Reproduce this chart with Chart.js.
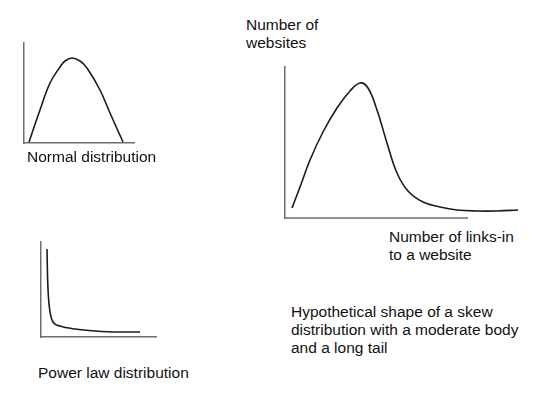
<!DOCTYPE html>
<html>
<head>
<meta charset="utf-8">
<script src="https://cdn.jsdelivr.net/npm/chart.js@4.4.1/dist/chart.umd.min.js"></script>
<style>
  body { margin: 0; background: #fff; }
  #page { position: relative; width: 550px; height: 394px; overflow: hidden; background: #fff; }
  canvas { position: absolute; }
  .lbl { position: absolute; font-family: "Liberation Sans", Arial, sans-serif; font-size: 15.5px; line-height: 18px; color: #111; white-space: nowrap; }
</style>
</head>
<body>
<div id="page">
  <canvas id="normalChart" width="130" height="120" style="left:14px;top:33px"></canvas>
  <canvas id="skewChart" width="265" height="171" style="left:275px;top:57px"></canvas>
  <canvas id="powerChart" width="135" height="115" style="left:31px;top:232px"></canvas>

  <div class="lbl" style="left:246px;top:16px">Number of<br>websites</div>
  <div class="lbl" style="left:389px;top:228px">Number of links-in<br>to a website</div>
  <div class="lbl" style="left:291px;top:303px">Hypothetical shape of a skew<br>distribution with a moderate body<br>and a long tail</div>
  <div class="lbl" style="left:27px;top:148px">Normal distribution</div>
  <div class="lbl" style="left:38px;top:364px">Power law distribution</div>
</div>
<script>
// curve shapes (arbitrary units)
const normalX = [5, 16, 26, 36, 41, 48, 56, 63, 76, 86, 99];
const normalY = [1, 33, 60, 76, 82, 85, 82, 75, 53, 30, 1];

const skewX = [7, 15, 25, 38, 52, 65, 75, 83, 92, 102, 112, 123, 138, 155, 172, 192, 212, 233];
const skewY = [10, 31, 58, 86, 110, 127, 135, 130, 108, 75, 45, 27, 16, 11, 8, 7, 7, 8];
const skewAxisEnd = 183; // x axis stops short of the tail

const powerX = [6, 6.5, 7.3, 9, 12, 19, 34, 54, 77, 99];
const powerY = [88, 62, 42, 25, 15, 11, 8, 6, 5, 5];

const AXIS_COLOR = '#6e6e6e';
const toPoints = (xs, ys) => xs.map((x, i) => ({ x: x, y: ys[i] }));

const axisOpts = (max, showBorder) => ({
    type: 'linear',
    min: 0,
    max: max,
    ticks: { display: false },
    grid: { display: false, drawTicks: false },
    border: { display: showBorder, color: AXIS_COLOR, width: 1.5 }
});

function curveSet(xs, ys, tension) {
    return {
        data: toPoints(xs, ys),
        borderColor: '#1c1c1c',
        borderWidth: 1.6,
        pointRadius: 0,
        tension: tension,
        clip: false
    };
}

function drawChart(id, datasets, xMax, yMax, pad, xBorder) {
    const ctx = document.getElementById(id);
    return new Chart(ctx, {
        type: 'line',
        data: { datasets: datasets },
        options: {
            responsive: false,
            animation: false,
            layout: { padding: pad },
            plugins: { legend: { display: false }, tooltip: { enabled: false } },
            scales: { x: axisOpts(xMax, xBorder), y: axisOpts(yMax, true) }
        }
    });
}

drawChart('normalChart', [curveSet(normalX, normalY, 0.4)], 110, 100, 10, true);

// short x axis drawn as a flat line on the value scale
const skewAxisLine = {
    data: [{ x: 0, y: 0 }, { x: skewAxisEnd, y: 0 }],
    borderColor: AXIS_COLOR,
    borderWidth: 1.5,
    pointRadius: 0,
    clip: false
};
drawChart('skewChart', [curveSet(skewX, skewY, 0.4), skewAxisLine], 240, 151,
    { left: 10, top: 10, bottom: 10, right: 15 }, false);

drawChart('powerChart', [{ ...curveSet(powerX, powerY, 0), cubicInterpolationMode: 'monotone' }], 115, 95, 10, true);
</script>
</body>
</html>
